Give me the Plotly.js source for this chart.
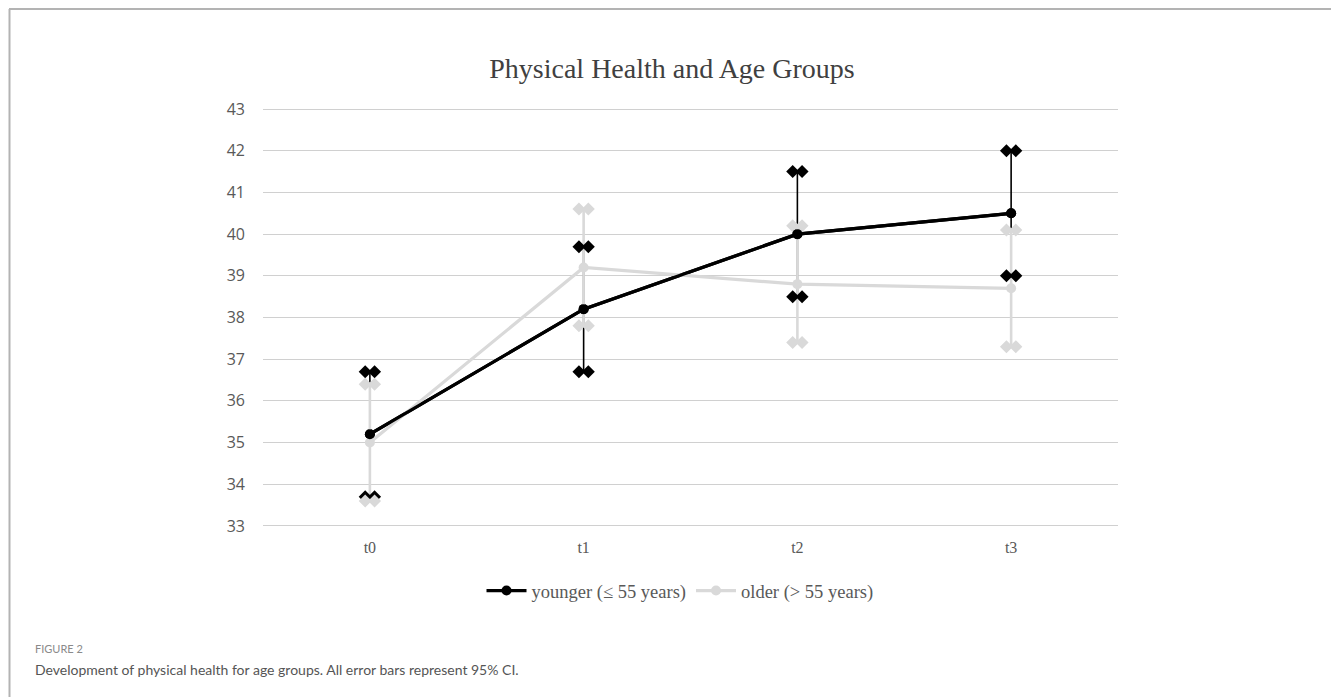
<!DOCTYPE html>
<html>
<head>
<meta charset="utf-8">
<script src="https://cdn.plot.ly/plotly-3.0.1.min.js"></script>
<style>
  html, body { margin: 0; padding: 0; background: #ffffff; }
  #chart { width: 1331px; height: 697px; }
</style>
</head>
<body>
<div id="chart"></div>
<script>
// Measurement occasions
const timepoints = ['t0', 't1', 't2', 't3'];

// Younger group (<= 55 years): mean and 95% CI bounds
const youngerMean  = [35.2, 38.2, 40.0, 40.5];
const youngerUpper = [36.7, 39.7, 41.5, 42.0];
const youngerLower = [33.7, 36.7, 38.5, 39.0];

// Older group (> 55 years): mean and 95% CI bounds
const olderMean  = [35.0, 39.2, 38.8, 38.7];
const olderUpper = [36.4, 40.6, 40.2, 40.1];
const olderLower = [33.6, 37.8, 37.4, 37.3];

const seriesNames = ['younger (\u2264 55 years)', 'older (> 55 years)'];
const yTicks = [33, 34, 35, 36, 37, 38, 39, 40, 41, 42, 43];

const BLACK = '#000000';
const LIGHT = '#d9d9d9';

const idx = timepoints.map((_, i) => i);
const capShift = 0.022;   // horizontal spread of the twin diamond caps

function errTrace(name, mean, upper, lower, color, barWidth) {
  return {
    type: 'scatter', mode: 'lines+markers', name: name, showlegend: true,
    x: idx, y: mean,
    line: { color: color, width: 3.2 },
    marker: { color: color, size: 10, symbol: 'circle' },
    error_y: {
      type: 'data', symmetric: false,
      array: upper.map((u, i) => u - mean[i]),
      arrayminus: lower.map((l, i) => mean[i] - l),
      color: color, thickness: barWidth, width: 0
    },
    hoverinfo: 'skip'
  };
}

function capTrace(upper, lower, color) {
  const xs = [], ys = [];
  idx.forEach((i, k) => {
    xs.push(i - capShift, i + capShift, i - capShift, i + capShift);
    ys.push(upper[k], upper[k], lower[k], lower[k]);
  });
  return {
    type: 'scatter', mode: 'markers', showlegend: false, hoverinfo: 'skip',
    x: xs, y: ys,
    marker: { color: color, size: 10, symbol: 'diamond', line: { width: 0 } }
  };
}

const data = [
  errTrace(seriesNames[0], youngerMean, youngerUpper, youngerLower, BLACK, 1.6),
  errTrace(seriesNames[1], olderMean, olderUpper, olderLower, LIGHT, 2.6),
  capTrace(youngerUpper, youngerLower, BLACK),
  capTrace(olderUpper, olderLower, LIGHT),
  // younger line redrawn on top so its points stay visible over the light bars
  {
    type: 'scatter', mode: 'lines+markers', showlegend: false, hoverinfo: 'skip',
    x: idx, y: youngerMean,
    line: { color: BLACK, width: 3.2 },
    marker: { color: BLACK, size: 10 }
  }
];

// value 43 sits at y=109 px and 33 at y=526 px; the axis runs a little past both
const Y0 = 32.95, Y1 = 43.05;
const pxPerUnit = (526 - 109) / 10;
const L = 263, R = 1118, W = 1331, H = 697;
const T = Math.round(109 - (Y1 - 43) * pxPerUnit);
const B = Math.round(526 + (33 - Y0) * pxPerUnit);
const px = v => (v - L) / (R - L);
const py = v => (B - v) / (B - T);

const layout = {
  width: W, height: H,
  margin: { l: L, r: W - R, t: T, b: H - B, pad: 0 },
  paper_bgcolor: '#ffffff',
  plot_bgcolor: '#ffffff',
  showlegend: true,
  title: {
    text: 'Physical Health and Age Groups',
    font: { family: 'Liberation Serif, Times New Roman, serif', size: 28, color: '#404040' },
    x: px(672), xref: 'paper', xanchor: 'center',
    y: 1 - 68 / H, yref: 'container', yanchor: 'middle'
  },
  xaxis: {
    range: [-0.5, timepoints.length - 0.5],
    tickmode: 'array', tickvals: idx, ticktext: timepoints,
    showgrid: false, zeroline: false, showline: false, ticks: '',
    ticklabelstandoff: 8,
    tickfont: { family: 'Liberation Serif, Times New Roman, serif', size: 16, color: '#595959' },
    fixedrange: true
  },
  yaxis: {
    range: [Y0, Y1],
    tickmode: 'array', tickvals: yTicks,
    showgrid: true, gridcolor: '#d0d0d0', gridwidth: 1,
    zeroline: false, showline: false, ticks: '',
    ticklabelstandoff: 17,
    tickfont: { family: 'Open Sans, DejaVu Sans, sans-serif', size: 16, color: '#595959' },
    fixedrange: true
  },
  legend: {
    orientation: 'h',
    x: px(680), xanchor: 'center',
    y: py(591), yanchor: 'middle',
    font: { family: 'Liberation Serif, Times New Roman, serif', size: 18.5, color: '#595959' },
    itemwidth: 40,
    bgcolor: 'rgba(0,0,0,0)'
  },
  shapes: [
    // page frame: top rule and left rule
    { type: 'line', xref: 'paper', yref: 'paper', x0: px(9), x1: px(W), y0: py(9), y1: py(9),
      line: { color: '#b3b3b3', width: 2 } },
    { type: 'line', xref: 'paper', yref: 'paper', x0: px(9.5), x1: px(9.5), y0: py(9), y1: py(H),
      line: { color: '#b3b3b3', width: 2 } }
  ],
  annotations: [
    { text: 'FIGURE 2', xref: 'paper', yref: 'paper', x: px(33), y: py(648),
      xanchor: 'left', yanchor: 'middle', showarrow: false,
      font: { family: 'Lato, Open Sans, sans-serif', size: 11, color: '#8a8a8a' } },
    { text: 'Development of physical health for age groups. All error bars represent 95% CI.',
      xref: 'paper', yref: 'paper', x: px(33), y: py(669),
      xanchor: 'left', yanchor: 'middle', showarrow: false,
      font: { family: 'Lato, Open Sans, sans-serif', size: 14, color: '#555555' } }
  ]
};

Plotly.newPlot('chart', data, layout, { displayModeBar: false, staticPlot: true });
</script>
</body>
</html>
